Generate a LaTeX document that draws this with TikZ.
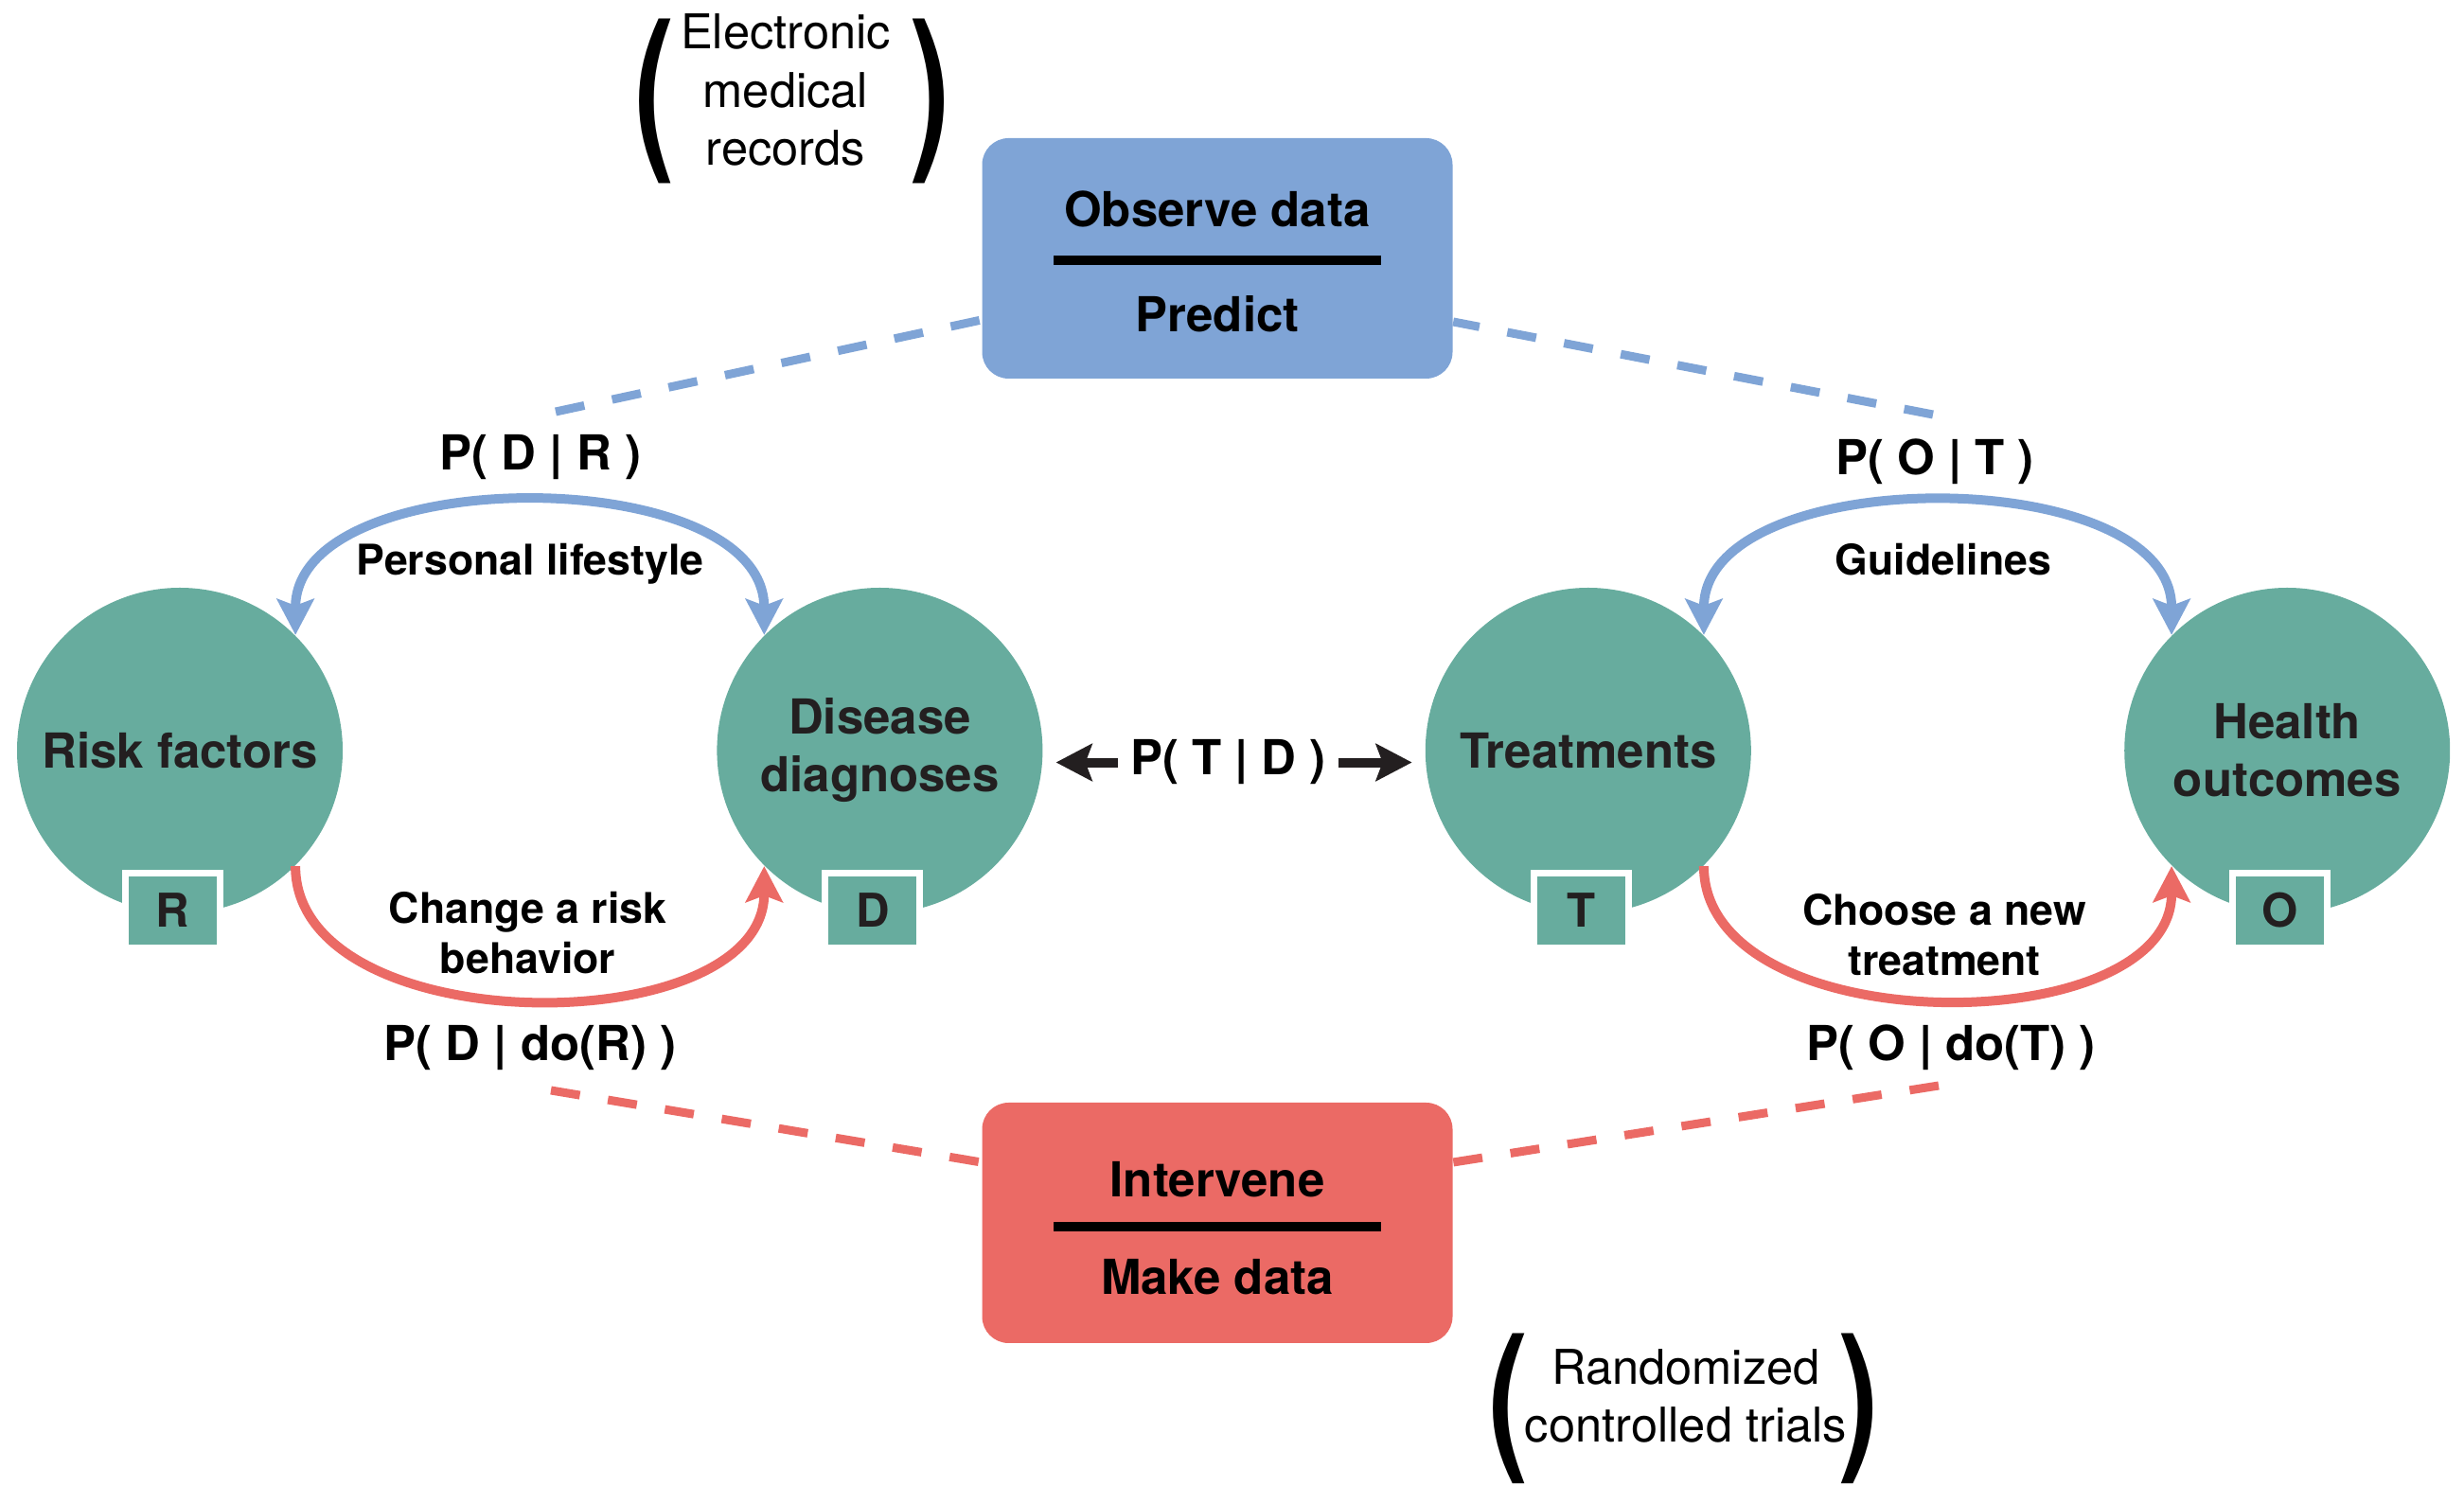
\documentclass[tikz,border=0pt]{standalone}
\usepackage{fontspec}
\setmainfont{TeX Gyre Heros}
\usepackage{graphicx}
\usepackage{tikz}
\usetikzlibrary{
  arrows.meta,
  positioning
}
\definecolor{cauteal}{RGB}{103,172,158}
\definecolor{caublue}{RGB}{127,164,214}
\definecolor{caured}{RGB}{235,106,101}
\definecolor{cauink}{RGB}{35,31,32}
\tikzset{
  cauNode/.style={
    circle,
    fill=cauteal,
    minimum size=3.44cm,
    inner sep=0pt,
    align=center,
    text=cauink,
    font=\bfseries\fontsize{14.5}{17.4}\selectfont
  },
  cauTag/.style={
    rectangle,
    fill=cauteal,
    draw=white,
    line width=0.7mm,
    minimum width=1cm,
    minimum height=0.79cm,
    inner sep=0pt,
    text=cauink,
    font=\bfseries\fontsize{14}{14}\selectfont
  },
  cauBox/.style={
    rectangle,
    rounded corners=2.8mm,
    minimum width=4.97cm,
    minimum height=2.54cm
  },
  cauTitle/.style={
    inner sep=0pt,
    font=\bfseries\fontsize{14.5}{17.4}\selectfont
  },
  cauProb/.style={
    inner sep=0pt,
    anchor=base,
    font=\bfseries\fontsize{14.5}{17.4}\selectfont
  },
  cauLabel/.style={
    inner sep=0pt,
    align=center,
    font=\bfseries\fontsize{12.7}{15}\selectfont
  },
  cauNote/.style={
    inner sep=0pt,
    align=center,
    font=\fontsize{14.4}{17.4}\selectfont
  },
  cauParen/.style={
    inner sep=0pt,
    font=\bfseries\fontsize{36}{36}\selectfont
  },
  cauLink/.style={
    line width=1mm
  },
  cauDash/.style={
    line width=0.9mm,
    dash pattern=on 3.1mm off 3mm
  },
  cauArrow/.style={
    ->,
    line width=1mm,
    draw=cauink,
    shorten >=1.35mm
  }
}

\begin{document}
\begin{tikzpicture}[>={Stealth[length=3.8mm,width=3.9mm,inset=0.7mm]}]
  \useasboundingbox (0,0) rectangle (26.03,15.70);

  \node[cauNode] (risk) at (1.90,7.77) {Risk factors};
  \node[cauNode, right=3.94cm of risk] (dis) {Disease\\diagnoses};
  \node[cauNode, right=4.03cm of dis] (treat) {Treatments};
  \node[cauNode, right=3.93cm of treat] (health) {Health\\outcomes};

  \node[cauTag] (rtag) at ([xshift=-0.75mm,yshift=-16.9mm]risk.center) {R};
  \node[cauTag] (dtag) at ([xshift=-0.75mm,yshift=-16.9mm]dis.center) {D};
  \node[cauTag] (ttag) at ([xshift=-0.75mm,yshift=-16.9mm]treat.center) {T};
  \node[cauTag] (otag) at ([xshift=-0.75mm,yshift=-16.9mm]health.center) {O};

  \node[cauBox, fill=caublue] (obs) at (12.86,12.97) {};
  \node[cauTitle] (obsTop) at ([yshift=5.2mm]obs.center) {Observe data};
  \node[cauTitle] (obsBot) at ([yshift=-5.9mm]obs.center) {Predict};
  \draw[line width=1mm] ([xshift=-17.3mm,yshift=-0.2mm]obs.center)
    -- ([xshift=17.3mm,yshift=-0.2mm]obs.center);

  \node[cauBox, fill=caured] (int) at (12.86,2.78) {};
  \node[cauTitle] (intTop) at ([yshift=4.6mm]int.center) {Intervene};
  \node[cauTitle] (intBot) at ([yshift=-5.7mm]int.center) {Make data};
  \draw[line width=1mm] ([xshift=-17.3mm,yshift=-0.4mm]int.center)
    -- ([xshift=17.3mm,yshift=-0.4mm]int.center);

  \coordinate (dr) at (5.87,11.35);
  \coordinate (ot) at (20.42,11.32);
  \coordinate (ddr) at (5.82,4.18);
  \coordinate (odt) at (20.48,4.23);

  \draw[cauDash, draw=caublue] (dr) -- ([yshift=-6.5mm]obs.west);
  \draw[cauDash, draw=caublue] (ot) -- ([yshift=-6.7mm]obs.east);
  \draw[cauDash, draw=caured] (ddr) -- ([yshift=6.4mm]int.west);
  \draw[cauDash, draw=caured] (odt) -- ([yshift=6.4mm]int.east);

  \node[cauProb] (pdr) at (5.71,10.73) {P( D | R )};
  \node[cauProb] (pot) at (20.44,10.68) {P( O | T )};
  \node[cauProb] (pddr) at (5.60,4.49) {P( D | do(R) )};
  \node[cauProb] (podt) at (20.61,4.49) {P( O | do(T) )};
  \node[cauProb, inner sep=1.2mm] (ptd) at (12.975,7.51) {P( T | D )};

  \node[cauLabel, anchor=base] (life) at (5.60,9.62) {Personal lifestyle};
  \node[cauLabel, anchor=base] (guide) at (20.53,9.62) {Guidelines};
  \node[cauLabel] (change) at (5.575,5.845) {Change a risk\\behavior};
  \node[cauLabel] (choose) at (20.54,5.825) {Choose a new\\treatment};

  \draw[cauLink, draw=caublue, <->] (risk.45)
    to[out=90, in=90, looseness=0.95] (dis.135);
  \draw[cauLink, draw=caublue, <->] (treat.45)
    to[out=90, in=90, looseness=0.95] (health.135);
  \draw[cauLink, draw=caured, ->] (risk.-45)
    to[out=-90, in=-90, looseness=0.97] (dis.-135);
  \draw[cauLink, draw=caured, ->] (treat.-45)
    to[out=-90, in=-90, looseness=0.97] (health.-135);

  \draw[cauArrow] (ptd.west) -- (ptd.west -| dis.east);
  \draw[cauArrow] (ptd.east) -- (ptd.east -| treat.west);

  \node[cauNote] (emr) at (8.30,14.75) {Electronic\\medical\\records};
  \node[cauParen] (emrL) at (6.92,14.63) {\scalebox{1}[1.48]{(}};
  \node[cauParen] (emrR) at (9.83,14.63) {\scalebox{1}[1.48]{)}};

  \node[cauNote] (rct) at (17.81,0.95) {Randomized\\controlled trials};
  \node[cauParen] (rctL) at (15.94,0.82) {\scalebox{1}[1.35]{(}};
  \node[cauParen] (rctR) at (19.64,0.82) {\scalebox{1}[1.35]{)}};
\end{tikzpicture}
\end{document}
